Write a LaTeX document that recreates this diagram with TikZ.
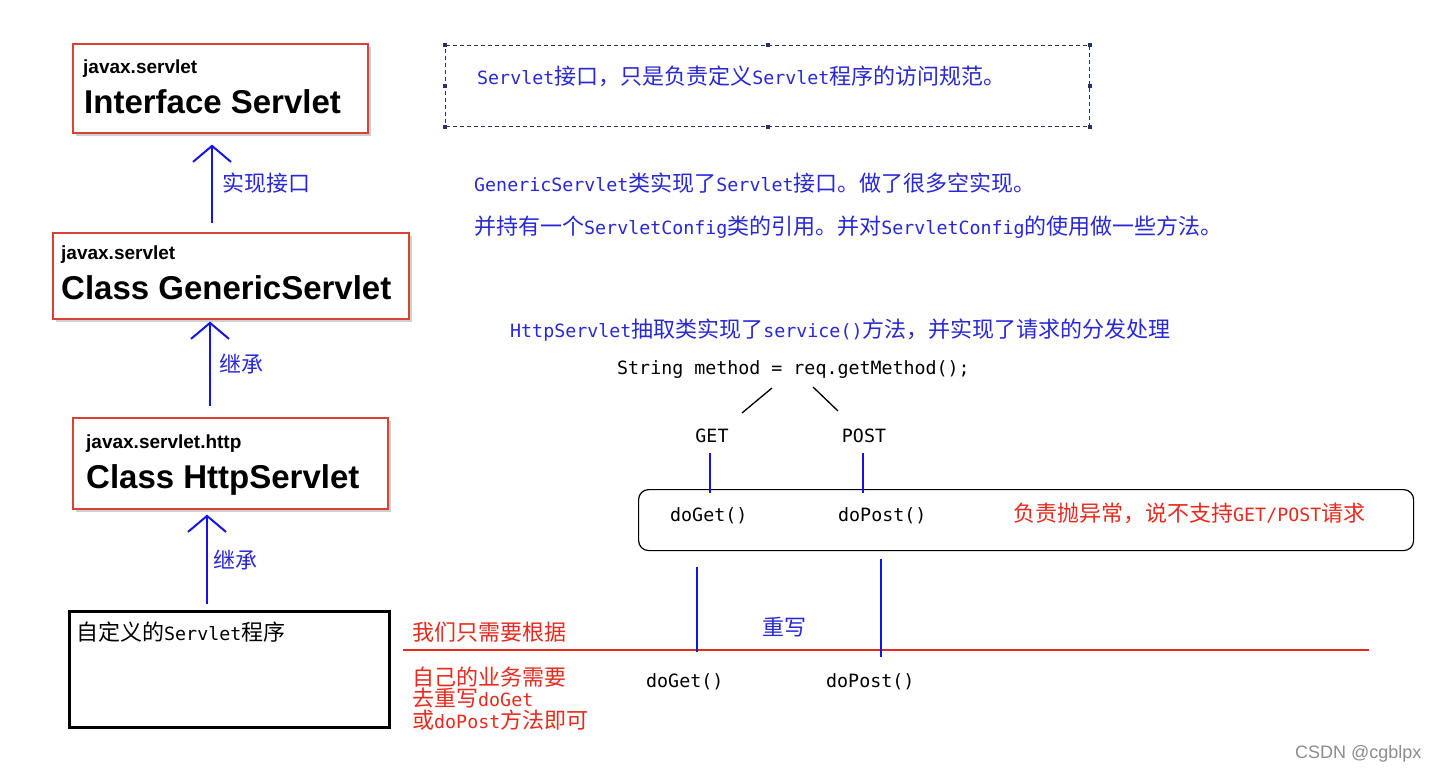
\documentclass[tikz,border=0pt]{standalone}
\usepackage{fontspec}
\setmainfont{Liberation Sans}
\newfontfamily\cjk{Noto Sans CJK SC}
\newfontfamily\monof{DejaVu Sans Mono}
\newcommand\latn[1]{{\monof\fontsize{18.3}{22}\selectfont #1}}
\usetikzlibrary{arrows.meta,shadows}
\definecolor{boxred}{RGB}{214,66,54}
\definecolor{txtblue}{RGB}{40,40,215}
\definecolor{arrblue}{RGB}{20,20,228}
\definecolor{txtred}{RGB}{232,42,30}
\definecolor{dashnavy}{RGB}{40,50,100}
\begin{document}
\begin{tikzpicture}[x=1pt,y=-1pt,
  cls/.style={draw=boxred, line width=1.6pt, fill=white, anchor=north west, inner sep=0,
    drop shadow={shadow xshift=3pt, shadow yshift=-3pt, opacity=0.3, fill=black!60}},
  pkg/.style={font=\bfseries\fontsize{19}{22}\selectfont, anchor=base west, inner sep=0},
  ttl/.style={font=\bfseries\fontsize{33}{38}\selectfont, anchor=base west, inner sep=0},
  inh/.style={draw=arrblue, line width=2.3pt, -{Straight Barb[length=16pt,width=38pt,line width=2pt]}},
  ann/.style={font=\cjk\fontsize{22}{26}\selectfont, anchor=west, inner sep=0},
  blu/.style={ann, text=txtblue},
  rd/.style={ann, text=txtred},
  mono/.style={font=\monof\fontsize{18.3}{22}\selectfont, inner sep=0},
  handle/.style={fill=dashnavy, draw=none, minimum size=4pt, inner sep=0},
  vthick/.style={draw=arrblue, line width=2.2pt},
  vthin/.style={draw=arrblue, line width=1.2pt},
]
\useasboundingbox (0,0) rectangle (1440,775);
\fill[white] (0,0) rectangle (1440,775);

% class boxes
\node[cls, minimum width=295, minimum height=89] (b1) at (72,43) {};
\node[pkg] (p1) at (83,73.5) {javax.servlet};
\node[ttl] (t1) at (84,114) {Interface Servlet};

\node[cls, minimum width=356, minimum height=86] (b2) at (52,232) {};
\node[pkg] (p2) at (61,259.5) {javax.servlet};
\node[ttl] (t2) at (61,299.5) {Class GenericServlet};

\node[cls, minimum width=315, minimum height=91] (b3) at (72,417) {};
\node[pkg] (p3) at (86,448) {javax.servlet.http};
\node[ttl] (t3) at (86,488) {Class HttpServlet};

\node[draw=black, line width=3pt, minimum width=320, minimum height=116, anchor=north west, inner sep=0] (b4) at (68,610) {};
\node[ann] (t4) at (76,632) {自定义的\latn{Servlet}程序};

% inheritance arrows
\draw[inh, shorten <=9pt, shorten >=11pt] (212,0 |- b2.north) -- (212,0 |- b1.south);
\node[blu] (l1) at (222,183) {实现接口};
\draw[inh, shorten <=11pt, shorten >=2pt] (210,0 |- b3.north) -- (210,0 |- b2.south);
\node[blu] (l2) at (219,364) {继承};
\draw[inh, shorten <=6pt, shorten >=5pt] (207,0 |- b4.north) -- (207,0 |- b3.south);
\node[blu] (l3) at (213,560) {继承};

% dashed note
\node[draw=dashnavy, line width=1.1pt, dash pattern=on 4pt off 3pt, minimum width=644, minimum height=81, anchor=north west, inner sep=0] (note) at (445,45) {};
\foreach \a in {north west,north,north east,west,east,south west,south,south east}
  \node[handle] at (note.\a) {};
\node[blu] (n1) at (477,76) {\latn{Servlet}接口，只是负责定义\latn{Servlet}程序的访问规范。};

\node[blu] (n2) at (474,183) {\latn{GenericServlet}类实现了\latn{Servlet}接口。做了很多空实现。};
\node[blu] (n3) at (474,227) {并持有一个\latn{ServletConfig}类的引用。并对\latn{ServletConfig}的使用做一些方法。};
\node[blu] (n4) at (510,330) {\latn{HttpServlet}抽取类实现了\latn{service()}方法，并实现了请求的分发处理};

% dispatch
\node[mono, anchor=west] (code) at (617,370) {String method = req.getMethod();};
\node[mono] (get) at (712,436) {GET};
\node[mono] (post) at (864,436) {POST};
\coordinate (c1) at (772,388);
\coordinate (c2) at (742,413);
\coordinate (c3) at (813,387);
\coordinate (c4) at (838,411);
\draw[line width=1.3pt] (c1) -- (c2);
\draw[line width=1.3pt] (c3) -- (c4);

\node[draw=black, line width=1.2pt, rounded corners=10pt, minimum width=775, minimum height=61, anchor=north west, inner sep=0] (rr) at (638,489) {};
\draw[vthick] (710,453) -- (710,0 |- rr.north) -- ++(0,4);
\draw[vthick] (863,453) -- (863,0 |- rr.north) -- ++(0,4);
\node[mono, anchor=west] (dg1) at (670,516) {doGet()};
\node[mono, anchor=west] (dp1) at (838,516) {doPost()};
\node[rd] (ex) at (1013,513) {负责抛异常，说不支持\latn{GET/POST}请求};

% override
\draw[txtred, line width=1.2pt] (403,650) coordinate (r0) -- (1369,650) coordinate (r1);
\draw[vthin] (697,567) -- (697,652);
\draw[vthin] (881,559) -- (881,657);
\node[blu] (ov) at (762,627) {重写};
\node[rd] (w1) at (412,632) {我们只需要根据};
\node[rd] (w2) at (412,677) {自己的业务需要};
\node[rd] (w3) at (412,698) {去重写\latn{doGet}};
\node[rd] (w4) at (412,720) {或\latn{doPost}方法即可};
\node[mono, anchor=west] (dg2) at (646,682) {doGet()};
\node[mono, anchor=west] (dp2) at (826,682) {doPost()};

\node[font=\fontsize{18}{20}\selectfont, text=black!45, anchor=west, inner sep=0] (wm) at (1295,754) {CSDN @cgblpx};
\end{tikzpicture}
\end{document}
